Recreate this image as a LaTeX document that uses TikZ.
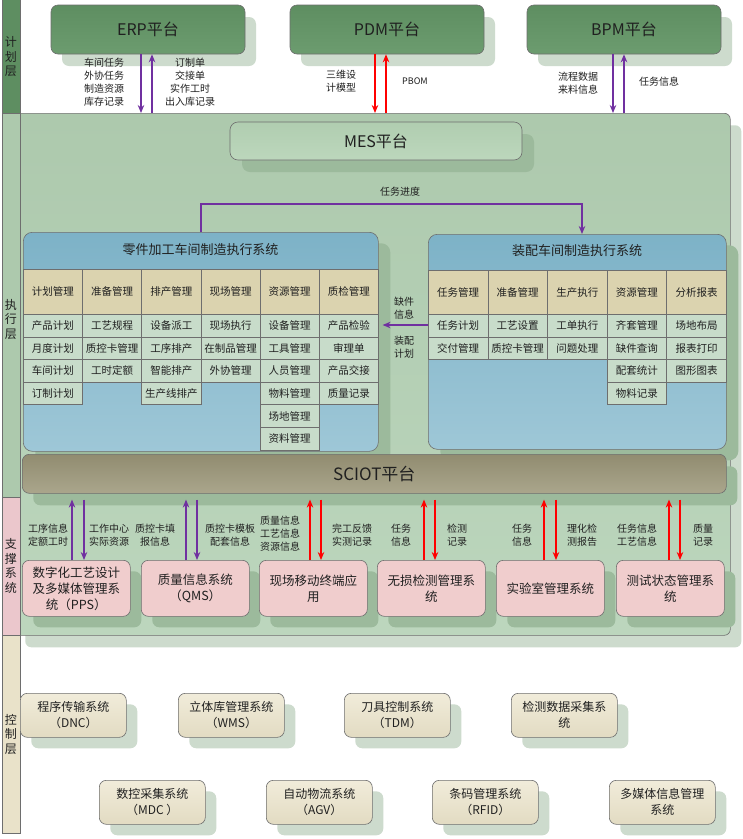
\documentclass[tikz,border=0pt]{standalone}
\usepackage{fontspec}
\setmainfont{Noto Sans CJK SC}
\usetikzlibrary{arrows.meta,shadows}
\definecolor{plangreen}{HTML}{5E8E61}
\definecolor{plangreenB}{HTML}{6C9C6F}
\definecolor{execgreen}{HTML}{ADC9AD}
\definecolor{execgreenB}{HTML}{BCD6BD}
\definecolor{softshadow}{HTML}{CDDBCD}
\definecolor{darkshadow}{HTML}{9CBA9C}
\definecolor{mesfill}{HTML}{B0CDB0}
\definecolor{mesfillB}{HTML}{BCD7BC}
\definecolor{sysblueA}{HTML}{7DB2C7}
\definecolor{sysblueB}{HTML}{9EC7D7}
\definecolor{headtan}{HTML}{DBD3AF}
\definecolor{cellgreen}{HTML}{C8DCCA}
\definecolor{sciotA}{HTML}{918C70}
\definecolor{sciotB}{HTML}{AAA68C}
\definecolor{suppink}{HTML}{F0CDCD}
\definecolor{ctlA}{HTML}{F1ECDA}
\definecolor{ctlB}{HTML}{E2DBC2}
\definecolor{layerpink}{HTML}{EBC7CC}
\definecolor{layerbeige}{HTML}{E9E2C9}
\definecolor{arrpurple}{HTML}{7030A0}
\definecolor{arrred}{HTML}{FF0000}
\definecolor{edgegray}{HTML}{6E6E6E}
\definecolor{txt}{HTML}{202020}
\begin{document}
\begin{tikzpicture}[x=1pt,y=-1pt,
  every node/.style={text=txt},
  layercol/.style={draw=edgegray, line width=0.6pt, anchor=north west, minimum width=18, inner sep=0},
  layertext/.style={font=\fontsize{12}{14.5}\selectfont, align=center, inner sep=0},
  topbox/.style={draw=edgegray, line width=0.6pt, rounded corners=7, top color=plangreen, bottom color=plangreenB,
    minimum width=194, minimum height=49, font=\fontsize{16}{18}\selectfont,
    drop shadow={shadow xshift=11pt, shadow yshift=-12pt, fill=softshadow, opacity=1}},
  lbl/.style={font=\fontsize{10}{13}\selectfont, align=center, inner sep=0},
  headcell/.style={draw=edgegray, line width=0.6pt, fill=headtan, anchor=north west, inner sep=0,
    font=\fontsize{10.5}{12}\selectfont},
  itemcell/.style={draw=edgegray, line width=0.6pt, fill=cellgreen, anchor=north west, inner sep=0,
    font=\fontsize{10.5}{12}\selectfont},
  sysbox/.style={draw=edgegray, line width=0.6pt, rounded corners=9, top color=sysblueA, bottom color=sysblueB,
    anchor=north west, inner sep=0,
    drop shadow={shadow xshift=12pt, shadow yshift=-11pt, fill=darkshadow, opacity=1}},
  supbox/.style={draw=edgegray, line width=0.6pt, rounded corners=7, fill=suppink, anchor=north west,
    minimum width=108, minimum height=56, inner sep=0, align=center, font=\fontsize{12.5}{16}\selectfont,
    drop shadow={shadow xshift=11pt, shadow yshift=-11pt, fill=darkshadow, opacity=1}},
  ctlbox/.style={draw=edgegray, line width=0.6pt, rounded corners=7, top color=ctlA, bottom color=ctlB, anchor=north west,
    minimum width=106, minimum height=44, inner sep=0, align=center, font=\fontsize{12}{16}\selectfont,
    drop shadow={shadow xshift=11pt, shadow yshift=-11pt, fill=softshadow, opacity=1}},
  parr/.style={draw=arrpurple, line width=1.3pt, -{Stealth[length=8pt,width=6.5pt]}},
  rarr/.style={draw=arrred, line width=1.3pt, -{Stealth[length=8pt,width=6.5pt]}}
]
\useasboundingbox (0,0) rectangle (743,839);
\fill[white] (0,0) rectangle (743,839);

% execution / support background
\node[draw=edgegray, line width=0.6pt, rounded corners=6, top color=execgreen, bottom color=execgreenB,
  anchor=north west, minimum width=716, minimum height=522, inner sep=0,
  drop shadow={shadow xshift=11pt, shadow yshift=-12pt, fill=softshadow, opacity=1}] (exec) at (14,113) {};

% layer column
\node[layercol, fill=plangreen, minimum height=118] (lay1) at (2,-5) {};
\node[layercol, fill=execgreen, minimum height=384] (lay2) at (2,113) {};
\node[layercol, fill=layerpink, minimum height=138] (lay3) at (2,497) {};
\node[layercol, fill=layerbeige, minimum height=198] (lay4) at (2,635) {};
\node[layertext] (lt1) at (11,57) {计\\划\\层};
\node[layertext] (lt2) at (11,319) {执\\行\\层};
\node[layertext] (lt3) at (11,566) {支\\撑\\系\\统};
\node[layertext] (lt4) at (11,734) {控\\制\\层};

% top platforms
\node[topbox] (erp) at (148,29.5) {ERP平台};
\node[topbox] (pdm) at (387,29.5) {PDM平台};
\node[topbox] (bpm) at (624,29.5) {BPM平台};

% MES
\node[draw=edgegray, line width=0.6pt, rounded corners=8, top color=mesfill, bottom color=mesfillB,
  minimum width=292, minimum height=38, font=\fontsize{16}{18}\selectfont,
  drop shadow={shadow xshift=12pt, shadow yshift=-12pt, fill=darkshadow, opacity=1}] (mes) at (376,141) {MES平台};

% x positions of vertical connectors
\coordinate (xe1) at (141,0); \coordinate (xe2) at (152,0);
\coordinate (xp1) at (375,0); \coordinate (xp2) at (386,0);
\coordinate (xb1) at (613,0); \coordinate (xb2) at (624,0);

\draw[parr] (xe1 |- erp.south) -- (xe1 |- exec.north);
\draw[parr] (xe2 |- exec.north) -- (xe2 |- erp.south);
\draw[rarr] (xp1 |- pdm.south) -- (xp1 |- exec.north);
\draw[rarr] (xp2 |- exec.north) -- (xp2 |- pdm.south);
\draw[parr] (xb1 |- bpm.south) -- (xb1 |- exec.north);
\draw[parr] (xb2 |- exec.north) -- (xb2 |- bpm.south);

\node[lbl] (le1) at (104,82) {车间任务\\外协任务\\制造资源\\库存记录};
\node[lbl] (le2) at (190,82) {订制单\\交接单\\实作工时\\出入库记录};
\node[lbl] (lp1) at (341,81) {三维设\\计模型};
\node[lbl, font=\fontsize{9}{11}\selectfont] (lp2) at (415,81) {PBOM};
\node[lbl] (lb1) at (578,83) {流程数据\\来料信息};
\node[lbl] (lb2) at (659,82) {任务信息};

% systems
\node[sysbox, minimum width=355, minimum height=219] (lsys) at (23,232) {};
\node[sysbox, minimum width=298, minimum height=215] (rsys) at (428,234) {};
\node[font=\fontsize{13}{15}\selectfont] (ltitle) at (200.5,250) {零件加工车间制造执行系统};
\node[font=\fontsize{13}{15}\selectfont] (rtitle) at (577,251) {装配车间制造执行系统};

\foreach \i/\h/\L in {0/计划管理/{产品计划,月度计划,车间计划,订制计划},
                      1/准备管理/{工艺规程,质控卡管理,工时定额},
                      2/排产管理/{设备派工,工序排产,智能排产,生产线排产},
                      3/现场管理/{现场执行,在制品管理,外协管理},
                      4/资源管理/{设备管理,工具管理,人员管理,物料管理,场地管理,资料管理},
                      5/质检管理/{产品检验,审理单,产品交接,质量记录}}{
  \node[headcell, minimum width=59.2, minimum height=45] (lh\i) at ({23+\i*59.2},269) {\h};
  \foreach \t [count=\r from 0] in \L {
    \node[itemcell, minimum width=59.2, minimum height=22.6] (lc\i-\r) at ({23+\i*59.2},{314+\r*22.6}) {\t};
  }
}

\foreach \i/\h/\L in {0/任务管理/{任务计划,交付管理},
                      1/准备管理/{工艺设置,质控卡管理},
                      2/生产执行/{工单执行,问题处理},
                      3/资源管理/{齐套管理,缺件查询,配套统计,物料记录},
                      4/分析报表/{场地布局,报表打印,图形图表}}{
  \node[headcell, minimum width=59.6, minimum height=44] (rh\i) at ({428+\i*59.6},270) {\h};
  \foreach \t [count=\r from 0] in \L {
    \node[itemcell, minimum width=59.6, minimum height=22.6] (rc\i-\r) at ({428+\i*59.6},{314+\r*22.6}) {\t};
  }
}

% task progress connector
\coordinate (tp1) at (201,204);
\coordinate (tp2) at (582,204);
\draw[parr] (tp1 |- lsys.north) -- (tp1) -- (tp2) -- (tp2 |- rsys.north);
\node[lbl] (ltp) at (400,192) {任务进度};

% assembly -> parts connector
\coordinate (yq) at (0,325);
\draw[parr] (yq -| rsys.west) -- ([xshift=4pt]yq -| lsys.east);
\node[lbl] (lq1) at (404,308) {缺件\\信息};
\node[lbl] (lq2) at (404,347) {装配\\计划};

% SCIOT
\node[draw=edgegray, line width=0.6pt, rounded corners=7, top color=sciotA, bottom color=sciotB,
  anchor=north west, minimum width=704, minimum height=39, inner sep=0,
  drop shadow={shadow xshift=11pt, shadow yshift=-12pt, fill=darkshadow, opacity=1}] (sciot) at (22,454) {};
\node[font=\fontsize{17}{19}\selectfont] (sciottext) at (sciot.center) {SCIOT平台};

% support systems
\node[supbox] (pps) at (22,560) {数字化工艺设计\\及多媒体管理系\\统（PPS）};
\node[supbox] (qms) at (141,560) {质量信息系统\\（QMS）};
\node[supbox] (mob) at (259,560) {现场移动终端应\\用};
\node[supbox] (ndt) at (377,560) {无损检测管理系\\统};
\node[supbox] (lab) at (496,560) {实验室管理系统};
\node[supbox] (tst) at (616,560) {测试状态管理系\\统};

\foreach \nm/\xu/\xd/\c in {pps/72/84/parr, qms/186/197/parr, mob/310/321/rarr,
                           ndt/424/435/rarr, lab/544/556/rarr, tst/669/680/rarr}{
  \coordinate (u\nm) at (\xu,0);
  \coordinate (d\nm) at (\xd,0);
  \draw[\c, shorten >=6pt] (u\nm |- \nm.north) -- (u\nm |- sciot.south);
  \draw[\c, shorten <=6pt] (d\nm |- sciot.south) -- (d\nm |- \nm.north);
}

\node[lbl] (s1) at (48,535) {工序信息\\定额工时};
\node[lbl] (s2) at (109,535) {工作中心\\实际资源};
\node[lbl] (s3) at (155,535) {质控卡填\\报信息};
\node[lbl] (s4) at (230,535) {质控卡模板\\配套信息};
\node[lbl] (s5) at (280,534) {质量信息\\工艺信息\\资源信息};
\node[lbl] (s6) at (352,535) {完工反馈\\实测记录};
\node[lbl] (s7) at (401,535) {任务\\信息};
\node[lbl] (s8) at (457,535) {检测\\记录};
\node[lbl] (s9) at (522,535) {任务\\信息};
\node[lbl] (s10) at (582,535) {理化检\\测报告};
\node[lbl] (s11) at (637,535) {任务信息\\工艺信息};
\node[lbl] (s12) at (703,535) {质量\\记录};

% control layer
\node[ctlbox] (dnc) at (20,693) {程序传输系统\\（DNC）};
\node[ctlbox] (wms) at (178,693) {立体库管理系统\\（WMS）};
\node[ctlbox] (tdm) at (344,693) {刀具控制系统\\（TDM）};
\node[ctlbox] (jc) at (511,693) {检测数据采集系\\统};
\node[ctlbox] (mdc) at (99,780) {数控采集系统\\（MDC ）};
\node[ctlbox] (agv) at (266,780) {自动物流系统\\（AGV）};
\node[ctlbox] (rfid) at (432,780) {条码管理系统\\（RFID）};
\node[ctlbox] (mm) at (609,780) {多媒体信息管理\\系统};
\end{tikzpicture}
\end{document}
